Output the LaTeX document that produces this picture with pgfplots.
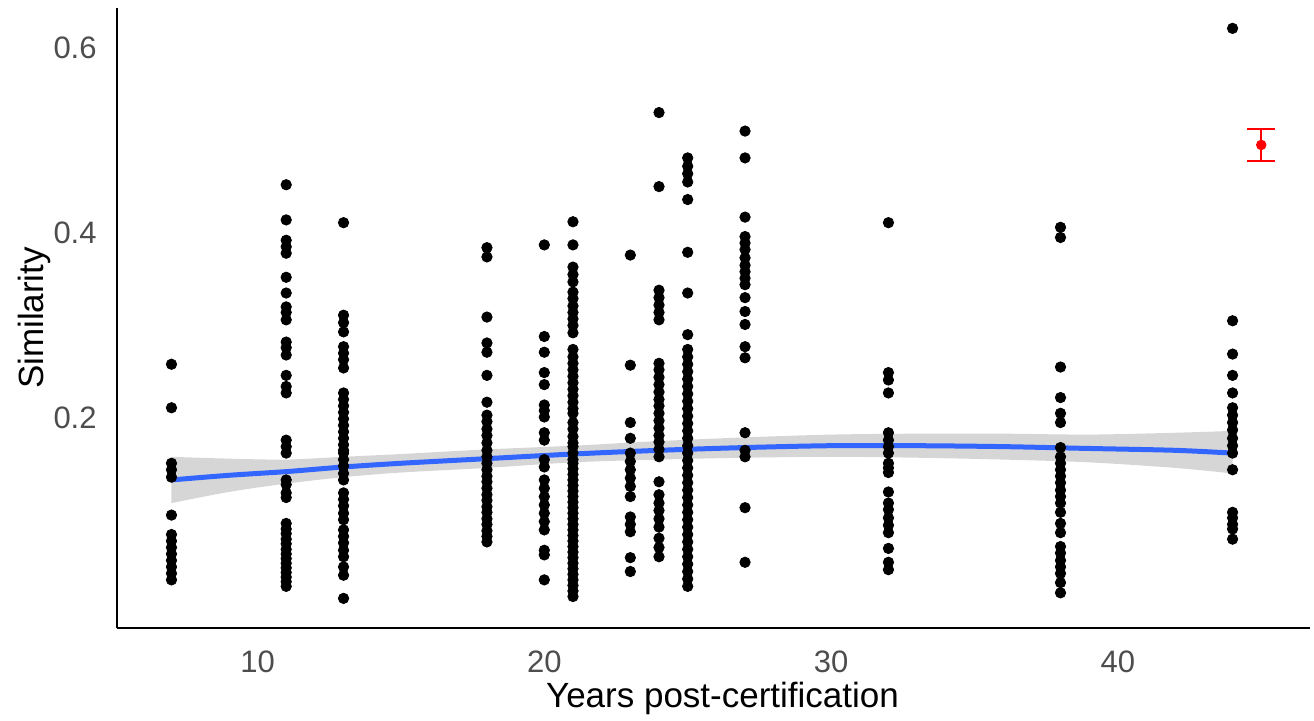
\documentclass[border=0pt]{standalone}
\usepackage{fontspec}
\setmainfont{Liberation Sans}
\usepackage{pgfplots}
\pgfplotsset{compat=1.18}
\usepackage{pgfplotstable}
\usepgfplotslibrary{fillbetween}
\definecolor{tickgrey}{HTML}{4D4D4D}
\definecolor{smoothblue}{HTML}{3366FF}
\definecolor{bandgrey}{HTML}{999999}

% smooth fit with its confidence band
\pgfplotstableread{
x    fit    lo     hi
7    0.133  0.108  0.158
9    0.138  0.120  0.156
11   0.142  0.129  0.155
13   0.147  0.136  0.158
15   0.151  0.141  0.161
18   0.156  0.146  0.166
21   0.161  0.152  0.170
24   0.165  0.155  0.175
27   0.168  0.157  0.179
30   0.170  0.158  0.182
33   0.170  0.157  0.183
36   0.169  0.155  0.183
39   0.167  0.152  0.182
42   0.165  0.146  0.184
44   0.162  0.140  0.186
}\fit

\begin{document}
\begin{tikzpicture}
\begin{axis}[
    at={(0,0)}, anchor=south west,
    scale only axis,
    width=596.5pt, height=310pt,
    xmin=5.1, xmax=46.7,
    ymin=-0.027, ymax=0.643,
    axis x line*=bottom, axis y line*=left,
    axis line style={line width=1pt, black},
    major tick length=0pt,
    xtick={10,20,30,40},
    ytick={0.2,0.4,0.6},
    /pgf/number format/assume math mode=true,
    yticklabel style={/pgf/number format/fixed, /pgf/number format/precision=1,
        /pgf/number format/fixed zerofill},
    tick label style={font=\fontsize{15.5}{17}\selectfont, text=tickgrey},
    xticklabel style={anchor=base, yshift=-22.5pt},
    yticklabel style={anchor=east, inner sep=0pt, xshift=-10pt},
    xlabel={Years post-certification},
    ylabel={Similarity},
    every axis x label/.style={at={(axis description cs:0.5,0)}, anchor=base,
        xshift=4.5pt, yshift=-40pt, font=\fontsize{17.5}{20}\selectfont, text=black},
    every axis y label/.style={at={(axis description cs:-0.062,0.5)}, rotate=90,
        anchor=base, font=\fontsize{17.5}{20}\selectfont, text=black},
    clip=false,
]
% x = 7
\addplot[only marks, mark=*, mark size=2.6pt, black] coordinates {
 (7,0.258) (7,0.211) (7,0.151) (7,0.144) (7,0.136) (7,0.095) (7,0.074) (7,0.067)
 (7,0.060) (7,0.053) (7,0.046) (7,0.039) (7,0.032) (7,0.025)
% x = 11
 (11,0.452) (11,0.414) (11,0.392) (11,0.385) (11,0.378) (11,0.352) (11,0.335) (11,0.320)
 (11,0.314) (11,0.306) (11,0.282) (11,0.276) (11,0.268) (11,0.246) (11,0.234) (11,0.227)
 (11,0.176) (11,0.169) (11,0.162) (11,0.133) (11,0.128) (11,0.119) (11,0.114) (11,0.086)
 (11,0.080) (11,0.075) (11,0.069) (11,0.064) (11,0.058) (11,0.053) (11,0.048) (11,0.043)
 (11,0.038) (11,0.033) (11,0.028) (11,0.023) (11,0.018)
% x = 13
 (13,0.411) (13,0.311) (13,0.303) (13,0.293) (13,0.277) (13,0.270) (13,0.263) (13,0.254)
 (13,0.227) (13,0.220) (13,0.213) (13,0.206) (13,0.199) (13,0.192) (13,0.185) (13,0.178)
 (13,0.171) (13,0.165) (13,0.162) (13,0.155) (13,0.148) (13,0.140) (13,0.133) (13,0.119)
 (13,0.112) (13,0.105) (13,0.097) (13,0.090) (13,0.079) (13,0.072) (13,0.065) (13,0.057)
 (13,0.050) (13,0.039) (13,0.030) (13,0.005)
% x = 18
 (18,0.384) (18,0.374) (18,0.309) (18,0.281) (18,0.271) (18,0.246) (18,0.217) (18,0.203)
 (18,0.196) (18,0.188) (18,0.181) (18,0.173) (18,0.165) (18,0.158) (18,0.151) (18,0.144)
 (18,0.137) (18,0.131) (18,0.124) (18,0.117) (18,0.111) (18,0.104) (18,0.098) (18,0.091)
 (18,0.085) (18,0.078) (18,0.072) (18,0.066)
% x = 20
 (20,0.387) (20,0.288) (20,0.271) (20,0.249) (20,0.236) (20,0.214) (20,0.208) (20,0.201)
 (20,0.184) (20,0.176) (20,0.155) (20,0.147) (20,0.133) (20,0.124) (20,0.115) (20,0.106)
 (20,0.097) (20,0.088) (20,0.079) (20,0.057) (20,0.052) (20,0.025)
% x = 21
 (21,0.412) (21,0.387) (21,0.363) (21,0.355) (21,0.347) (21,0.336) (21,0.329) (21,0.321)
 (21,0.314) (21,0.307) (21,0.300) (21,0.292) (21,0.274) (21,0.266) (21,0.259) (21,0.252)
 (21,0.245) (21,0.238) (21,0.231) (21,0.224) (21,0.217) (21,0.210) (21,0.205) (21,0.195)
 (21,0.188) (21,0.180) (21,0.173) (21,0.169) (21,0.162) (21,0.155) (21,0.151) (21,0.145)
 (21,0.139) (21,0.133) (21,0.127) (21,0.121) (21,0.115) (21,0.109) (21,0.103) (21,0.097)
 (21,0.091) (21,0.085) (21,0.079) (21,0.073) (21,0.067) (21,0.061) (21,0.055) (21,0.049)
 (21,0.043) (21,0.037) (21,0.031) (21,0.025) (21,0.019) (21,0.013) (21,0.007)
% x = 23
 (23,0.376) (23,0.257) (23,0.195) (23,0.178) (23,0.162) (23,0.153) (23,0.144) (23,0.135)
 (23,0.126) (23,0.115) (23,0.093) (23,0.085) (23,0.077) (23,0.049) (23,0.034)
% x = 24
 (24,0.530) (24,0.450) (24,0.338) (24,0.330) (24,0.322) (24,0.314) (24,0.306) (24,0.259)
 (24,0.252) (24,0.244) (24,0.236) (24,0.228) (24,0.220) (24,0.213) (24,0.205) (24,0.197)
 (24,0.189) (24,0.181) (24,0.174) (24,0.166) (24,0.158) (24,0.131) (24,0.117) (24,0.108)
 (24,0.100) (24,0.091) (24,0.082) (24,0.070) (24,0.060) (24,0.050)
% x = 25
 (25,0.481) (25,0.472) (25,0.464) (25,0.455) (25,0.436) (25,0.379) (25,0.335) (25,0.290)
 (25,0.274) (25,0.266) (25,0.258) (25,0.250) (25,0.242) (25,0.234) (25,0.226) (25,0.218)
 (25,0.210) (25,0.202) (25,0.194) (25,0.186) (25,0.178) (25,0.170) (25,0.162) (25,0.154)
 (25,0.146) (25,0.138) (25,0.130) (25,0.122) (25,0.114) (25,0.106) (25,0.098) (25,0.090)
 (25,0.082) (25,0.074) (25,0.066) (25,0.058) (25,0.050) (25,0.042) (25,0.034) (25,0.026)
 (25,0.018)
% x = 27
 (27,0.510) (27,0.481) (27,0.417) (27,0.396) (27,0.389) (27,0.382) (27,0.373) (27,0.365)
 (27,0.358) (27,0.351) (27,0.344) (27,0.330) (27,0.315) (27,0.301) (27,0.277) (27,0.265)
 (27,0.184) (27,0.165) (27,0.158) (27,0.103) (27,0.044)
% x = 32
 (32,0.411) (32,0.249) (32,0.241) (32,0.227) (32,0.184) (32,0.176) (32,0.169) (32,0.162)
 (32,0.151) (32,0.146) (32,0.141) (32,0.120) (32,0.108) (32,0.101) (32,0.092) (32,0.084)
 (32,0.076) (32,0.059) (32,0.044) (32,0.036)
% x = 38
 (38,0.406) (38,0.395) (38,0.255) (38,0.222) (38,0.205) (38,0.195) (38,0.168) (38,0.158)
 (38,0.151) (38,0.144) (38,0.137) (38,0.130) (38,0.122) (38,0.115) (38,0.108) (38,0.098)
 (38,0.086) (38,0.076) (38,0.061) (38,0.054) (38,0.046) (38,0.039) (38,0.032) (38,0.022)
 (38,0.011)
% x = 44
 (44,0.621) (44,0.305) (44,0.269) (44,0.246) (44,0.227) (44,0.211) (44,0.203) (44,0.195)
 (44,0.187) (44,0.178) (44,0.170) (44,0.162) (44,0.144) (44,0.098) (44,0.092) (44,0.085)
 (44,0.080) (44,0.069)
};

% confidence band and fit
\addplot[name path=hi, draw=none, smooth] table[x=x, y=hi] {\fit};
\addplot[name path=lo, draw=none, smooth] table[x=x, y=lo] {\fit};
\addplot[fill=bandgrey, fill opacity=0.4, draw=none] fill between[of=hi and lo];
\addplot[smoothblue, line width=2.5pt, smooth] table[x=x, y=fit] {\fit};

% red mean with error bar
\addplot[red, line width=1.1pt] coordinates {(45,0.478) (45,0.512)};
\addplot[red, line width=1.1pt] coordinates {(44.51,0.512) (45.49,0.512)};
\addplot[red, line width=1.1pt] coordinates {(44.51,0.478) (45.49,0.478)};
\addplot[only marks, mark=*, mark size=2.4pt, red] coordinates {(45,0.495)};
\end{axis}
\pgfresetboundingbox
\path (-58.5pt,-46.5pt) rectangle (598.5pt,314pt);
\end{tikzpicture}
\end{document}
